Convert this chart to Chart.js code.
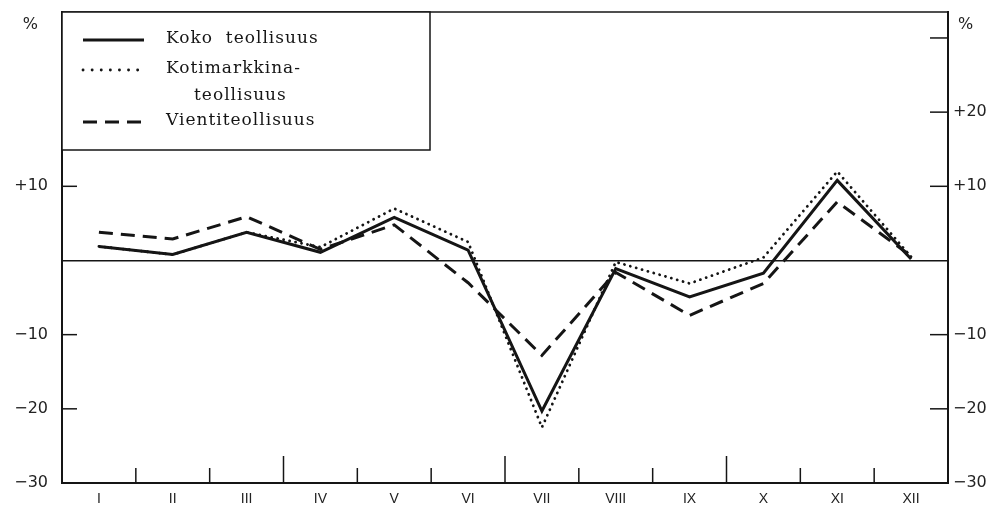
<!DOCTYPE html>
<html><head><meta charset="utf-8">
<style>html,body{margin:0;padding:0;background:#fff;}#wrap{width:999px;height:511px;}</style>
<script src="https://cdn.jsdelivr.net/npm/chart.js@4.4.0/dist/chart.umd.min.js"></script>
</head><body><div id="wrap"><canvas id="c" width="999" height="511"></canvas></div>
<script>
const months = ['I','II','III','IV','V','VI','VII','VIII','IX','X','XI','XII'];
const koko = [1.9, 0.8, 3.8, 1.1, 5.8, 1.4, -20.3, -1.1, -4.9, -1.7, 10.8, 0.2];
const kotimarkkina = [1.9, 0.8, 3.8, 1.8, 7.0, 2.5, -22.5, -0.2, -3.1, 0.4, 12.0, 0.5];
const vienti = [3.8, 2.9, 5.9, 1.5, 4.8, -3.0, -12.8, -1.6, -7.4, -3.1, 7.9, 0.6];
const seriesNames = [['Koko  teollisuus'], ['Kotimarkkina-', 'teollisuus'], ['Vientiteollisuus']];
const leftTickValues = [31.75, 10, 0, -10, -20, -30];
const leftTickLabels = ['%  ', '+10', '', '−10', '−20', '−30'];
const rightTickValues = [31.75, 20, 10, -10, -20, -30];
const rightTickLabels = [' %', '+20', '+10', '−10', '−20', '−30'];
const leftMarkValues = [10, -10, -20];
const rightMarkValues = [30, 20, 10, -10, -20];
const quarterEnds = [2, 5, 8];

const INK = '#151515';
const axisFont = {family: "'DejaVu Sans', sans-serif", size: 16};

const decor = {
  id: 'decor',
  afterDraw(chart) {
    const {ctx, chartArea: a, scales} = chart;
    const xs = scales.x, yl = scales.y, yr = scales.y2;
    ctx.save();
    ctx.strokeStyle = INK;
    ctx.lineWidth = 1.5;
    const seg = (x1, y1, x2, y2) => { ctx.beginPath(); ctx.moveTo(x1, y1); ctx.lineTo(x2, y2); ctx.stroke(); };
    seg(a.left, a.top, a.right, a.top);
    leftMarkValues.forEach(v => { const p = yl.getPixelForValue(v); seg(a.left, p, a.left + 15, p); });
    rightMarkValues.forEach(v => { const p = yr.getPixelForValue(v); seg(a.right - 18, p, a.right, p); });
    for (let i = 0; i < months.length - 1; i++) {
      const p = (xs.getPixelForValue(i) + xs.getPixelForValue(i + 1)) / 2;
      const len = quarterEnds.includes(i) ? 27 : 15;
      seg(p, a.bottom, p, a.bottom - len);
    }
    // legend box
    const bx = a.left, by = a.top, bw = 368, bh = 138;
    ctx.fillStyle = '#fff';
    ctx.fillRect(bx, by, bw, bh);
    ctx.lineWidth = 1.5;
    ctx.strokeRect(bx, by, bw, bh);
    const rows = [28, 58, 110];
    ctx.font = "17px 'DejaVu Serif', serif";
    ctx.fillStyle = INK;
    ctx.textBaseline = 'middle';
    chart.data.datasets.forEach((ds, i) => {
      const yy = by + rows[i];
      ctx.save();
      ctx.lineWidth = ds.borderWidth;
      ctx.setLineDash(ds.legendDash || ds.borderDash || []);
      ctx.lineCap = ds.borderCapStyle || 'butt';
      seg(bx + 21, yy, bx + 82, yy);
      ctx.restore();
      const lines = seriesNames[i];
      ctx.letterSpacing = '1px';
      ctx.fillText(lines[0], bx + 104, yy - 1);
      if (lines[1]) ctx.fillText(lines[1], bx + 132, yy + 26);
    });
    ctx.restore();
  }
};

const noPad = s => { s.paddingTop = 0; s.paddingBottom = 0; };

new Chart(document.getElementById('c'), {
  type: 'line',
  data: {
    labels: months,
    datasets: [
      {label: 'Koko teollisuus', data: koko, borderColor: INK, borderWidth: 3, pointRadius: 0, tension: 0, fill: false, order: 0},
      {label: 'Kotimarkkinateollisuus', data: kotimarkkina, borderColor: INK, borderWidth: 2.8, borderDash: [0.1, 6], borderCapStyle: 'round', legendDash: [0.1, 9], pointRadius: 0, tension: 0, fill: false, order: 1},
      {label: 'Vientiteollisuus', data: vienti, borderColor: INK, borderWidth: 3, borderDash: [14, 8], pointRadius: 0, tension: 0, fill: false, order: 2}
    ]
  },
  options: {
    responsive: false,
    animation: false,
    devicePixelRatio: 1,
    layout: {padding: {top: 12, left: 0, right: 0, bottom: 0}},
    plugins: {legend: {display: false}, tooltip: {enabled: false}},
    scales: {
      x: {
        type: 'category', offset: true,
        grid: {display: false, drawTicks: false},
        border: {display: true, color: INK, width: 2},
        ticks: {padding: 8, color: '#222', font: {family: "'Liberation Sans', Arial, sans-serif", size: 14}, maxRotation: 0, autoSkip: false},
        afterFit(s) { s.height = 28; s.paddingLeft = 0; s.paddingRight = 0; }
      },
      y: {
        position: 'left', min: -30, max: 33.5,
        afterBuildTicks(s) { s.ticks = leftTickValues.map(v => ({value: v})); },
        ticks: {padding: 14, color: '#222', font: axisFont, callback: v => leftTickLabels[leftTickValues.indexOf(v)]},
        grid: {drawTicks: false, lineWidth: 1.5, color: c => (c.tick && c.tick.value === 0) ? INK : 'rgba(0,0,0,0)'},
        border: {display: true, color: INK, width: 2},
        afterFit(s) { s.width = 62; noPad(s); }
      },
      y2: {
        position: 'right', min: -30, max: 33.5,
        afterBuildTicks(s) { s.ticks = rightTickValues.map(v => ({value: v})); },
        ticks: {padding: 5, color: '#222', font: axisFont, callback: v => rightTickLabels[rightTickValues.indexOf(v)]},
        grid: {display: false, drawTicks: false},
        border: {display: true, color: INK, width: 2},
        afterFit(s) { s.width = 51; noPad(s); }
      }
    }
  },
  plugins: [decor]
});
</script></body></html>
